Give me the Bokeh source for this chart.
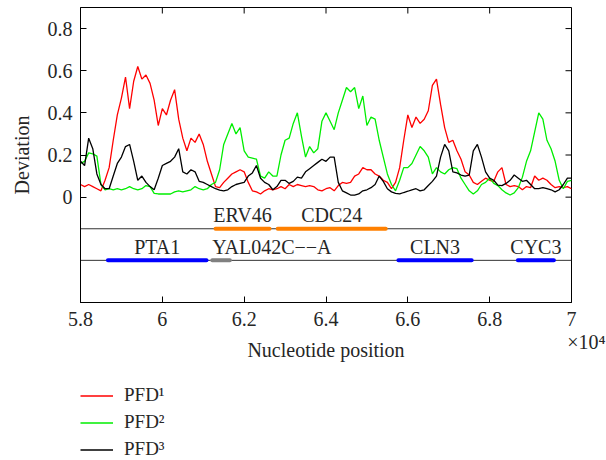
from bokeh.plotting import figure
from bokeh.layouts import column
from bokeh.models import (FixedTicker, LinearAxis, Span, ColumnDataSource,
                          Legend, LegendItem, Range1d, Title)
from bokeh.core.properties import value
from bokeh.embed import file_html
from bokeh.resources import INLINE

# ---------------- data ----------------
positions = list(range(58000, 70001, 100))

pfd1 = [0.06, 0.05, 0.06, 0.05, 0.04, 0.03, 0.08, 0.14, 0.27, 0.39,
        0.47, 0.57, 0.42, 0.55, 0.62, 0.56, 0.58, 0.54, 0.46, 0.34,
        0.42, 0.39, 0.46, 0.51, 0.37, 0.28, 0.22, 0.28, 0.26, 0.30,
        0.25, 0.17, 0.11, 0.05, 0.045, 0.07, 0.09, 0.11, 0.12, 0.13,
        0.12, 0.07, 0.03, 0.025, 0.015, 0.03, 0.04, 0.035, 0.04, 0.05,
        0.04, 0.06, 0.05, 0.06, 0.055, 0.05, 0.055, 0.05, 0.035, 0.03,
        0.04, 0.045, 0.03, 0.055, 0.07, 0.065, 0.07, 0.10, 0.11, 0.14,
        0.13, 0.13, 0.11, 0.10, 0.08, 0.07, 0.04, 0.07, 0.14, 0.27,
        0.39, 0.33, 0.38, 0.35, 0.37, 0.41, 0.53, 0.56, 0.44, 0.33,
        0.26, 0.27, 0.22, 0.18, 0.12, 0.105, 0.07, 0.06, 0.075, 0.09,
        0.08, 0.075, 0.12, 0.14, 0.06, 0.05, 0.055, 0.05, 0.035, 0.05,
        0.045, 0.10, 0.08, 0.09, 0.08, 0.06, 0.045, 0.05, 0.045, 0.05,
        0.04]

pfd2 = [0.16, 0.17, 0.21, 0.205, 0.195, 0.06, 0.035, 0.04, 0.035, 0.04,
        0.035, 0.04, 0.05, 0.04, 0.035, 0.04, 0.055, 0.05, 0.018, 0.015,
        0.015, 0.015, 0.015, 0.025, 0.03, 0.025, 0.03, 0.035, 0.05, 0.04,
        0.035, 0.04, 0.06, 0.07, 0.13, 0.25, 0.30, 0.35, 0.30, 0.33,
        0.22, 0.19, 0.185, 0.18, 0.10, 0.09, 0.12, 0.10, 0.10, 0.20,
        0.27, 0.28, 0.35, 0.40, 0.29, 0.19, 0.24, 0.21, 0.23, 0.36,
        0.40, 0.36, 0.32, 0.40, 0.46, 0.52, 0.50, 0.52, 0.42, 0.48,
        0.34, 0.38, 0.37, 0.27, 0.19, 0.11, 0.06, 0.03, 0.08, 0.14,
        0.14, 0.16, 0.20, 0.24, 0.22, 0.19, 0.11, 0.14, 0.12, 0.11,
        0.13, 0.14, 0.135, 0.09, 0.06, 0.03, 0.015, 0.03, 0.06, 0.07,
        0.09, 0.065, 0.055, 0.035, 0.02, 0.01, 0.02, 0.045, 0.095, 0.17,
        0.22, 0.31, 0.40, 0.37, 0.27, 0.23, 0.17, 0.08, 0.04, 0.075,
        0.08]

pfd3 = [0.17, 0.15, 0.28, 0.23, 0.11, 0.06, 0.04, 0.04, 0.10, 0.16,
        0.19, 0.24, 0.25, 0.17, 0.08, 0.10, 0.07, 0.05, 0.035, 0.09,
        0.15, 0.16, 0.17, 0.19, 0.23, 0.12, 0.11, 0.13, 0.12, 0.075,
        0.07, 0.06, 0.05, 0.04, 0.033, 0.03, 0.035, 0.05, 0.06, 0.065,
        0.07, 0.10, 0.115, 0.15, 0.09, 0.07, 0.06, 0.035, 0.05, 0.08,
        0.08, 0.065, 0.075, 0.095, 0.09, 0.12, 0.135, 0.15, 0.165, 0.18,
        0.17, 0.19, 0.19, 0.07, 0.03, 0.02, 0.01, 0.01, 0.015, 0.03,
        0.035, 0.045, 0.06, 0.10, 0.075, 0.04, 0.025, 0.018, 0.015, 0.022,
        0.028, 0.035, 0.04, 0.03, 0.035, 0.055, 0.075, 0.10, 0.19, 0.25,
        0.22, 0.12, 0.115, 0.105, 0.10, 0.105, 0.22, 0.25, 0.19, 0.12,
        0.09, 0.08, 0.057, 0.055, 0.065, 0.08, 0.105, 0.09, 0.075, 0.08,
        0.06, 0.04, 0.04, 0.045, 0.04, 0.035, 0.025, 0.035, 0.06, 0.09,
        0.09]

series_labels = ["PFD\u00b9", "PFD\u00b2", "PFD\u00b3"]

gene_names = ["ERV46", "CDC24", "PTA1", "YAL042C\u2212\u2212A", "CLN3", "CYC3"]
gene_start = [61300, 62820, 58670, 61220, 65770, 68690]
gene_end = [62620, 65460, 61080, 61650, 67560, 69570]
gene_track = ["upper", "upper", "lower", "lower", "lower", "lower"]

x_ticks = [58000, 60000, 62000, 64000, 66000, 68000, 70000]
x_tick_labels = ["5.8", "6", "6.2", "6.4", "6.6", "6.8", "7"]
y_ticks = [0, 0.2, 0.4, 0.6, 0.8]
y_tick_labels = ["0", "0.2", "0.4", "0.6", "0.8"]
x_multiplier = "\u00d710\u2074"

# ---------------- style ----------------
FONT = "Liberation Serif"
TXT = "#262626"
FS = "20px"
series_colors = ["#FF0000", "#00EE00", "#000000"]
track_y = {"upper": -0.15, "lower": -0.30}
label_lift = 0.063
gene_color_map = {"ERV46": "#FF8000", "CDC24": "#FF8000", "PTA1": "#0000FF",
                  "CLN3": "#0000FF", "CYC3": "#0000FF"}

X0, X1, Y0, Y1 = 58000, 70000, -0.5, 0.9
W, H, LH = 606, 380, 80
ML, MR, MT, MB = 80, 35, 7, 78
frame_w, frame_h = W - ML - MR, H - MT - MB

p = figure(width=W, height=H,
           x_range=Range1d(X0, X1), y_range=Range1d(Y0, Y1),
           output_backend="svg", toolbar_location=None,
           x_axis_location=None, y_axis_label="Deviation",
           min_border_left=ML, min_border_right=MR, min_border_top=MT,
           min_border_bottom=MB)
p.grid.visible = False
p.outline_line_color = "black"
p.outline_line_width = 1
p.background_fill_color = "white"
p.border_fill_color = "white"


def style_axis(ax):
    ax.major_tick_in = 6
    ax.major_tick_out = 0
    ax.minor_tick_line_color = None
    ax.axis_line_color = "black"
    ax.major_tick_line_color = "black"
    ax.major_label_text_font = FONT
    ax.major_label_text_font_size = FS
    ax.major_label_text_color = TXT
    ax.axis_label_text_font = FONT
    ax.axis_label_text_font_size = FS
    ax.axis_label_text_font_style = "normal"
    ax.axis_label_text_color = TXT


# y axis
ya = p.yaxis[0]
ya.ticker = FixedTicker(ticks=y_ticks)
ya.major_label_overrides = dict(zip(y_ticks, y_tick_labels))
style_axis(ya)
ya.major_label_standoff = 8
ya.axis_label_standoff = 12

# x axis: tick labels
xa = LinearAxis(ticker=FixedTicker(ticks=x_ticks))
xa.major_label_overrides = dict(zip(x_ticks, x_tick_labels))
style_axis(xa)
xa.major_label_standoff = 9
p.add_layout(xa, "below")

# x multiplier (x10^4) under the last tick label
mult = Title(text=x_multiplier, align="right", offset=-34, standoff=0,
             text_font=FONT, text_font_size=FS, text_font_style="normal",
             text_color=TXT)
p.add_layout(mult, "below")

# x axis label
xl = LinearAxis(ticker=FixedTicker(ticks=[]), axis_label="Nucleotide position")
style_axis(xl)
xl.axis_line_color = None
xl.major_tick_in = 0
xl.major_label_standoff = 0
xl.axis_label_standoff = -14
p.add_layout(xl, "below")

# mirrored inward ticks on the top and right edges
tick_px = 6
dy = tick_px * (Y1 - Y0) / frame_h
dx = tick_px * (X1 - X0) / frame_w
p.segment(x0=x_ticks, x1=x_ticks, y0=[Y1] * len(x_ticks),
          y1=[Y1 - dy] * len(x_ticks), line_color="black", line_width=1)
p.segment(x0=[X1] * len(y_ticks), x1=[X1 - dx] * len(y_ticks),
          y0=y_ticks, y1=y_ticks, line_color="black", line_width=1)

# curves
for ys, col in zip([pfd1, pfd2, pfd3], series_colors):
    p.line(positions, ys, line_color=col, line_width=1.3)

# gene tracks
for t in ("upper", "lower"):
    p.add_layout(Span(location=track_y[t], dimension="width",
                      line_color="#333333", line_width=1, level="underlay"))

gy = [track_y[t] for t in gene_track]
gcol = [gene_color_map.get(n, "#808080") for n in gene_names]
gsrc = ColumnDataSource(dict(x0=gene_start, x1=gene_end, y=gy, c=gcol))
p.segment(x0="x0", x1="x1", y0="y", y1="y", line_color="c", line_width=4,
          line_cap="round", source=gsrc)

lab_x, lab_align = [], []
for n, s, e in zip(gene_names, gene_start, gene_end):
    if n.startswith("YAL"):
        lab_x.append(s)
        lab_align.append("left")
    else:
        lab_x.append((s + e) / 2)
        lab_align.append("center")
lsrc = ColumnDataSource(dict(x=lab_x, y=[v + label_lift for v in gy],
                             t=gene_names, a=lab_align))
p.text(x="x", y="y", text="t", text_align="a", text_baseline="alphabetic",
       text_font=value(FONT), text_font_size=FS, text_color=TXT, source=lsrc)

# ---------------- legend strip below the chart ----------------
lf = figure(width=W, height=LH, x_range=Range1d(0, 1), y_range=Range1d(0, 1),
            output_backend="svg", toolbar_location=None,
            x_axis_location=None, y_axis_location=None,
            min_border_left=ML, min_border_right=0, min_border_top=0,
            min_border_bottom=0)
lf.grid.visible = False
lf.outline_line_color = None
lf.background_fill_color = "white"
lf.border_fill_color = "white"
leg_renderers = []
for ys, col in zip([pfd1, pfd2, pfd3], series_colors):
    # same series, outside this strip's view: only their legend swatches show
    leg_renderers.append(lf.line(positions, ys, line_color=col, line_width=1.3))

legend = Legend(items=[LegendItem(label=l, renderers=[r])
                       for l, r in zip(series_labels, leg_renderers)],
                location=(0, 0), orientation="vertical",
                padding=0, margin=0, spacing=5,
                glyph_width=33, glyph_height=21, label_height=21,
                label_standoff=11, border_line_color=None,
                background_fill_alpha=0,
                label_text_font=FONT, label_text_font_size="19px",
                label_text_color=TXT)
lf.add_layout(legend)

layout = column(p, lf, spacing=0)
open("out.html", "w").write(file_html(layout, INLINE))
